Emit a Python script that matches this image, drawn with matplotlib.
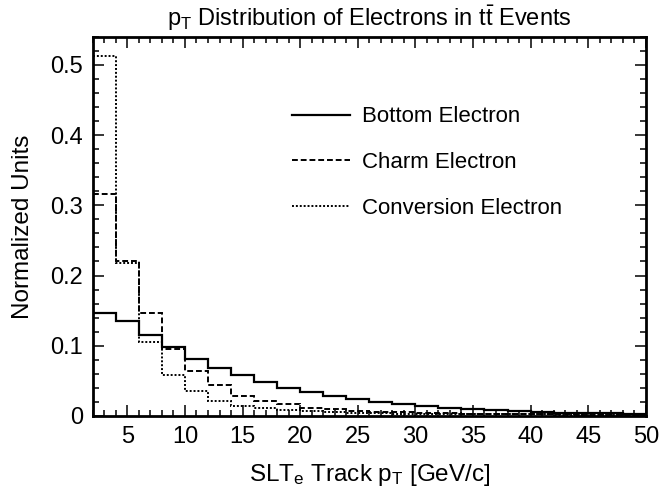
import numpy as np
import matplotlib
matplotlib.use("Agg")
import matplotlib.pyplot as plt
from matplotlib.ticker import MultipleLocator

plt.rcParams['font.family'] = ['Liberation Sans', 'DejaVu Sans']
plt.rcParams['mathtext.fontset'] = 'custom'
plt.rcParams['mathtext.rm'] = 'Liberation Sans'
plt.rcParams['mathtext.it'] = 'Liberation Sans'
plt.rcParams['mathtext.default'] = 'rm'

# bin edges, 2 GeV/c wide from 2 to 50
edges = np.arange(2, 52, 2)

# normalized contents
bottom = [0.146, 0.135, 0.116, 0.098, 0.081, 0.068, 0.058, 0.048,
          0.040, 0.034, 0.028, 0.024, 0.020, 0.017, 0.014, 0.012,
          0.010, 0.008, 0.007, 0.0057, 0.0047, 0.004, 0.0038, 0.003]
charm = [0.316, 0.221, 0.146, 0.0955, 0.064, 0.0435, 0.029, 0.022,
         0.0165, 0.012, 0.0094, 0.0075, 0.006, 0.005, 0.004, 0.0037,
         0.0033, 0.003, 0.0028, 0.0025, 0.0023, 0.0021, 0.002, 0.0018]
conversion = [0.512, 0.218, 0.105, 0.059, 0.035, 0.022, 0.0145, 0.011,
              0.0085, 0.007, 0.005, 0.0042, 0.0038, 0.0035, 0.0032, 0.003,
              0.0028, 0.0026, 0.0024, 0.0022, 0.002, 0.0019, 0.0018, 0.0017]

labels = ["Bottom Electron", "Charm Electron", "Conversion Electron"]

fig = plt.figure(figsize=(6.63, 4.97), dpi=100)
ax = fig.add_axes([0.140, 0.163, 0.834, 0.763])

ax.stairs(bottom, edges, color="black", lw=1.6, ls="-", baseline=None, label=labels[0])
ax.stairs(charm, edges, color="black", lw=1.4, ls=(0, (3, 1.5)), baseline=None, label=labels[1])
ax.stairs(conversion, edges, color="black", lw=1.4, ls=(0, (1, 1)), baseline=None, label=labels[2])

ax.set_xlim(2, 50)
ax.set_ylim(0, 0.54)
ax.xaxis.set_major_locator(MultipleLocator(5))
ax.xaxis.set_minor_locator(MultipleLocator(1))
ax.yaxis.set_minor_locator(MultipleLocator(0.02))
ax.set_yticks([0, 0.1, 0.2, 0.3, 0.4, 0.5])
ax.set_yticklabels(["0", "0.1", "0.2", "0.3", "0.4", "0.5"])
ax.tick_params(which="both", direction="in", top=True, right=True, labelsize=17, pad=7, width=1.1)
ax.tick_params(which="major", length=8)
ax.tick_params(which="minor", length=4)
for s in ax.spines.values():
    s.set_linewidth(2)

ax.set_xlabel(r"SLT$_\mathrm{e}$ Track p$_\mathrm{T}$ [GeV/c]", fontsize=17.5, labelpad=10)
ax.set_ylabel("Normalized Units", fontsize=17.5, labelpad=12)
ax.set_title(r"p$_\mathrm{T}$ Distribution of Electrons in t$\bar{\mathrm{t}}$ Events", fontsize=17, pad=8)

ax.legend(loc="upper left", bbox_to_anchor=(0.345, 0.84), frameon=False, fontsize=16,
          handlelength=2.6, handletextpad=0.55, labelspacing=1.12, borderaxespad=0)

fig.savefig("out.png", dpi=100)
